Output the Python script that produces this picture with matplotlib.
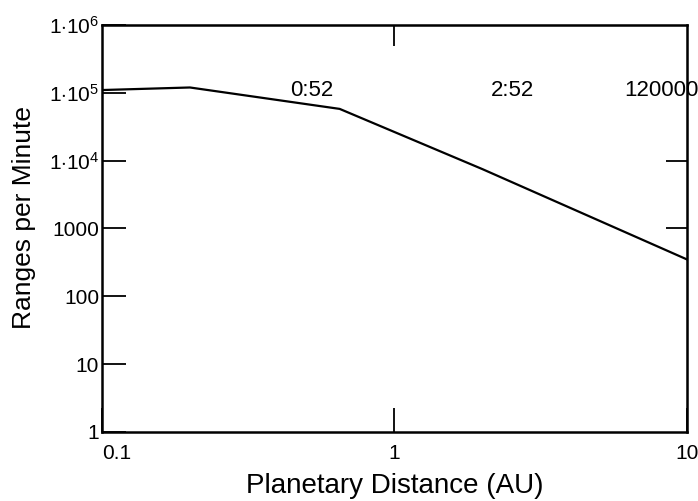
import matplotlib
matplotlib.use("Agg")
import matplotlib.pyplot as plt

plt.rcParams["font.family"] = ["Liberation Sans", "DejaVu Sans"]
plt.rcParams["mathtext.fontset"] = "custom"
plt.rcParams["mathtext.rm"] = "Liberation Sans"
plt.rcParams["mathtext.it"] = "Liberation Sans"

# range rate vs. planetary distance
distance_au = [0.1, 0.2, 0.65, 2.0, 10.0]
ranges_per_min = [1.1e5, 1.2e5, 5.8e4, 7.5e3, 350]

y_ticks = [1, 10, 100, 1000, 1e4, 1e5, 1e6]
y_labels = ["1", "10", "100", "1000", r"$1{\cdot}10^{4}$", r"$1{\cdot}10^{5}$", r"$1{\cdot}10^{6}$"]
x_ticks = [0.1, 1, 10]
x_labels = ["0.1", "1", "10"]

# annotations along the top of the plot (x position, text)
notes_x = [0.52, 2.54, 6.12]
notes_text = ["0:52", "2:52", "120000"]
notes_y = 1.1e5

fig = plt.figure(figsize=(6.98, 5.01), dpi=100)
ax = fig.add_axes([0.146, 0.138, 0.838, 0.812])

ax.plot(distance_au, ranges_per_min, color="black", lw=1.6)
ax.set_xscale("log")
ax.set_yscale("log")
ax.set_xlim(0.1, 10)
ax.set_ylim(1, 1e6)

ax.set_yticks(y_ticks)
ax.set_yticklabels(y_labels)
ax.set_xticks(x_ticks)
ax.set_xticklabels(x_labels)
ax.minorticks_off()
ax.tick_params(axis="both", direction="in", length=17, width=1.3,
               labelsize=15, colors="black")
ax.tick_params(axis="y", pad=2)
ax.tick_params(axis="x", pad=9)
ax.get_xticklabels()[0].set_ha("left")

for s in ax.spines.values():
    s.set_linewidth(1.8)

# a couple of extra marks on the opposite edges
top = ax.secondary_xaxis("top")
top.set_xticks([1])
top.tick_params(direction="in", length=15, width=1.3, labeltop=False)
top.minorticks_off()
right = ax.secondary_yaxis("right")
right.set_yticks([1000, 1e4])
right.tick_params(direction="in", length=15, width=1.3, labelright=False)
right.minorticks_off()

for x, t in zip(notes_x, notes_text):
    ax.text(x, notes_y, t, ha="left" if t == "120000" else "center",
            va="center", fontsize=16, clip_on=False)

ax.set_xlabel("Planetary Distance (AU)", fontsize=20, labelpad=7)
ax.set_ylabel("Ranges per Minute", fontsize=19)
ax.yaxis.set_label_coords(-0.112, 0.528)

fig.savefig("out.png", dpi=100)
